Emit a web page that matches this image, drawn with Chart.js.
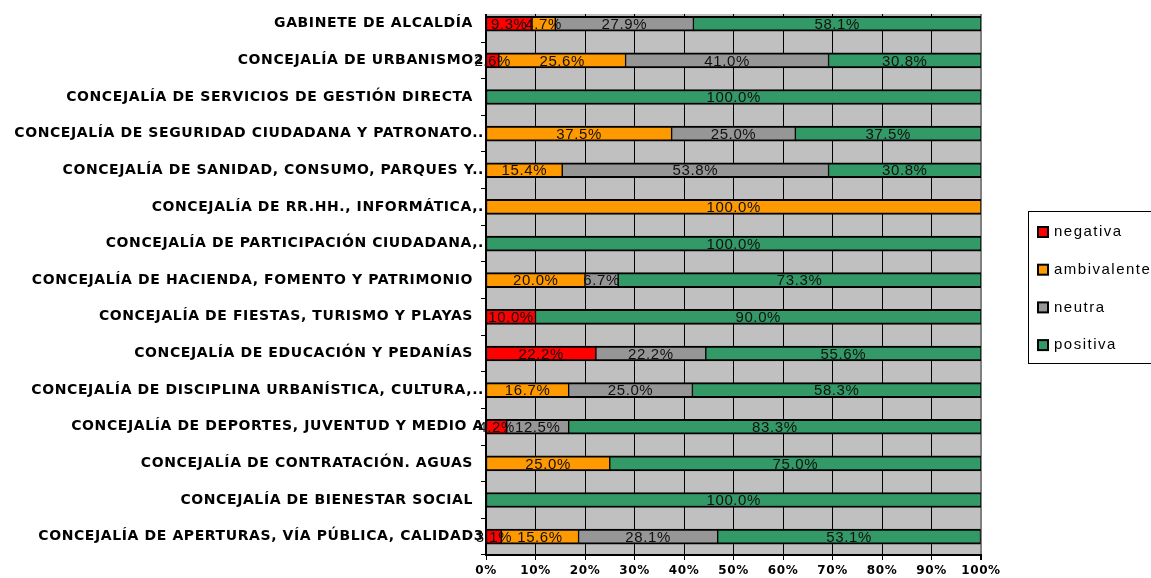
<!DOCTYPE html>
<html>
<head>
<meta charset="utf-8">
<script src="https://cdn.jsdelivr.net/npm/chart.js@4.4.1/dist/chart.umd.min.js"></script>
<style>
  body { margin: 0; background: #fff; }
  canvas { display: block; }
</style>
</head>
<body>
<canvas id="chart" width="1151" height="578"></canvas>
<script>
// categories, top to bottom
var categories = [
  "GABINETE DE ALCALDÍA  ",
  "CONCEJALÍA DE URBANISMO2",
  "CONCEJALÍA DE SERVICIOS DE GESTIÓN DIRECTA  ",
  "CONCEJALÍA DE SEGURIDAD CIUDADANA Y PATRONATO..",
  "CONCEJALÍA DE SANIDAD, CONSUMO, PARQUES Y..",
  "CONCEJALÍA DE RR.HH., INFORMÁTICA,.",
  "CONCEJALÍA DE PARTICIPACIÓN CIUDADANA,.",
  "CONCEJALÍA DE HACIENDA, FOMENTO Y PATRIMONIO  ",
  "CONCEJALÍA DE FIESTAS, TURISMO Y PLAYAS  ",
  "CONCEJALÍA DE EDUCACIÓN Y PEDANÍAS  ",
  "CONCEJALÍA DE DISCIPLINA URBANÍSTICA, CULTURA,..",
  "CONCEJALÍA DE DEPORTES, JUVENTUD Y MEDIO A",
  "CONCEJALÍA DE CONTRATACIÓN. AGUAS  ",
  "CONCEJALÍA DE BIENESTAR SOCIAL  ",
  "CONCEJALÍA DE APERTURAS, VÍA PÚBLICA, CALIDAD3"
]

var negativa    = [9.3, 2.6, null, null, null, null, null, null, 10.0, 22.2, null, 4.2, null, null, 3.1]
var ambivalente = [4.7, 25.6, null, 37.5, 15.4, 100.0, null, 20.0, null, null, 16.7, null, 25.0, null, 15.6]
var neutra      = [27.9, 41.0, null, 25.0, 53.8, null, null, 6.7, null, 22.2, 25.0, 12.5, null, null, 28.1]
var positiva    = [58.1, 30.8, 100.0, 37.5, 30.8, null, 100.0, 73.3, 90.0, 55.6, 58.3, 83.3, 75.0, 100.0, 53.1]

var seriesNames = ["negativa", "ambivalente", "neutra", "positiva"]
var seriesColors = ["#FF0000", "#FF9900", "#969696", "#339966"]
var xTicks = [0, 10, 20, 30, 40, 50, 60, 70, 80, 90, 100]

var PLOT_TOP = 14 // the plot is cut off above this line

// gray plot background + letter spacing for axis texts
var backgroundPlugin = {
  id: "plotBackground",
  beforeDraw: function (chart) {
    var ctx = chart.ctx, a = chart.chartArea
    ctx.save()
    ctx.fillStyle = "#C0C0C0"
    ctx.fillRect(a.left, PLOT_TOP, a.right - a.left, a.bottom - PLOT_TOP)
    ctx.restore()
    ctx.letterSpacing = "0.6px"
  },
  beforeDatasetsDraw: function (chart) {
    var ctx = chart.ctx, a = chart.chartArea
    ctx.letterSpacing = "0px"
    ctx.save()
    ctx.fillStyle = "#fff"
    ctx.fillRect(a.left - 8, 0, a.right - a.left + 12, PLOT_TOP)
    ctx.restore()
  }
}

// value labels centred on each segment
var valueLabels = {
  id: "valueLabels",
  afterDatasetsDraw: function (chart) {
    var ctx = chart.ctx
    ctx.save()
    ctx.font = "15px 'Liberation Sans', Arial, sans-serif"
    ctx.letterSpacing = "0.6px"
    ctx.fillStyle = "#111"
    ctx.textAlign = "center"
    ctx.textBaseline = "middle"
    chart.data.datasets.forEach(function (ds, i) {
      var meta = chart.getDatasetMeta(i)
      meta.data.forEach(function (el, j) {
        var v = ds.data[j]
        if (v == null) return
        var p = el.getProps(["x", "y", "base"], true)
        ctx.fillText(v.toFixed(1) + "%", (p.x + p.base) / 2, p.y + 1)
      })
    })
    ctx.restore()
  }
}

// boxed legend on the right
var boxLegend = {
  id: "boxLegend",
  afterDraw: function (chart) {
    var ctx = chart.ctx
    ctx.save()
    ctx.strokeStyle = "#000"
    ctx.lineWidth = 1
    ctx.strokeRect(1028.5, 211.5, 200, 152)
    ctx.font = "15px 'Liberation Sans', Arial, sans-serif"
    ctx.letterSpacing = "1.5px"
    ctx.textBaseline = "middle"
    chart.data.datasets.forEach(function (ds, i) {
      var cy = 232 + i * 37.7
      ctx.fillStyle = ds.backgroundColor
      ctx.fillRect(1038, cy - 5, 10, 10)
      ctx.lineWidth = 2
      ctx.strokeRect(1038, cy - 5, 10, 10)
      ctx.fillStyle = "#000"
      ctx.fillText(ds.label, 1054, cy)
    })
    ctx.restore()
  }
}

var series = [negativa, ambivalente, neutra, positiva]

new Chart(document.getElementById("chart"), {
  type: "bar",
  data: {
    labels: categories,
    datasets: series.map(function (values, i) {
      return {
        label: seriesNames[i],
        data: values,
        backgroundColor: seriesColors[i],
        borderColor: "#000",
        borderWidth: { top: 2, bottom: 2, left: 1, right: 1 },
        borderSkipped: false,
        barThickness: 15
      }
    })
  },
  options: {
    indexAxis: "y",
    responsive: false,
    animation: false,
    layout: { padding: { top: 4, right: 170, left: 0, bottom: 0 } },
    plugins: {
      legend: { display: false },
      tooltip: { enabled: false }
    },
    scales: {
      x: {
        stacked: true,
        min: 0,
        max: 100,
        afterBuildTicks: function (scale) {
          scale.ticks = xTicks.map(function (v) { return { value: v } })
        },
        afterFit: function (scale) { scale.height = 23 },
        ticks: {
          callback: function (v) { return v + "%" },
          color: "#000",
          font: { family: "'DejaVu Sans'", size: 12, weight: "bold" },
          padding: 4,
          maxRotation: 0,
          autoSkip: false
        },
        grid: {
          color: function (c) { return c.index === 10 ? "#808080" : "#000" },
          lineWidth: function (c) { return c.index === 10 ? 2 : 1 },
          tickColor: "#000",
          tickLength: 5
        },
        border: { color: "#000", width: 2 }
      },
      y: {
        stacked: true,
        afterFit: function (scale) { scale.width = 486 },
        ticks: {
          color: "#000",
          font: { family: "'DejaVu Sans'", size: 14, weight: "bold" },
          padding: -3,
          autoSkip: false
        },
        grid: {
          drawOnChartArea: false,
          color: "#000",
          tickLength: 5
        },
        border: { color: "#000", width: 2 }
      }
    }
  },
  plugins: [backgroundPlugin, valueLabels, boxLegend]
})
</script>
</body>
</html>
